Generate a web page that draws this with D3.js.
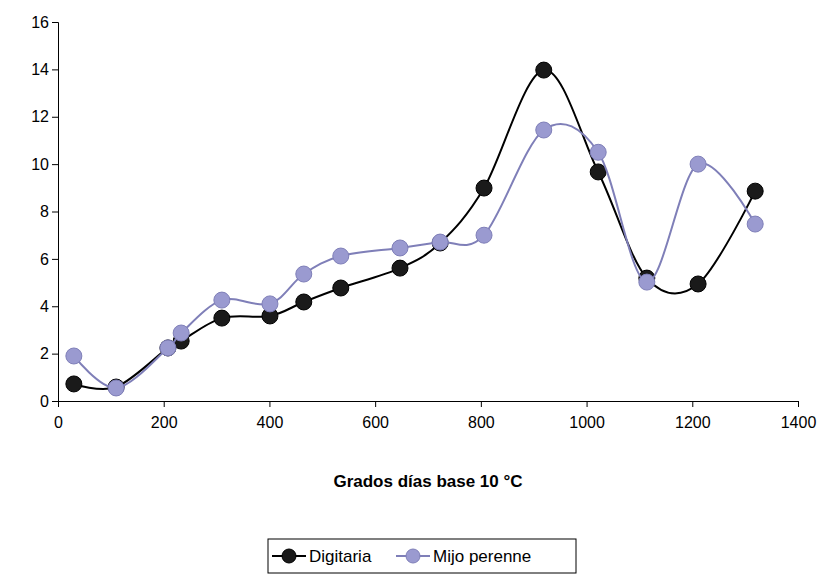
<!DOCTYPE html>
<html><head><meta charset="utf-8">
<script src="https://cdn.jsdelivr.net/npm/d3@7"></script>
<style>body{margin:0;background:#fff}text{font-family:"Liberation Sans",Arial,sans-serif}</style>
</head><body><div id="chart"></div>
<script>
var gdd = [30, 110, 208, 233, 310, 401, 465, 535, 647, 723, 806, 919, 1022, 1114, 1211, 1319];
var digitaria = [0.72, 0.59, 2.24, 2.53, 3.5, 3.59, 4.18, 4.77, 5.61, 6.67, 8.99, 13.97, 9.67, 5.19, 4.94, 8.86];
var mijo = [1.9, 0.55, 2.24, 2.87, 4.26, 4.1, 5.36, 6.12, 6.46, 6.71, 7.0, 11.44, 10.5, 5.02, 10.0, 7.47];
var xTicks = [0, 200, 400, 600, 800, 1000, 1200, 1400];
var yTicks = [0, 2, 4, 6, 8, 10, 12, 14, 16];

var svg = d3.select("#chart").append("svg").attr("width", 818).attr("height", 575);
var x = d3.scaleLinear().domain([0, 1400]).range([58, 798]);
var y = d3.scaleLinear().domain([0, 16]).range([401, 22]);

var xAxis = svg.append("g").attr("transform", "translate(0,401)")
  .call(d3.axisBottom(x).tickValues(xTicks).tickSize(6).tickFormat(d3.format("d")));
var yAxis = svg.append("g").attr("transform", "translate(58,0)")
  .call(d3.axisLeft(y).tickValues(yTicks).tickSize(6));
[xAxis, yAxis].forEach(function(a) {
  a.selectAll("path,line").attr("stroke", "#000");
  a.selectAll("text").attr("font-size", 16).attr("fill", "#000");
});
xAxis.selectAll("text").attr("dy", "1.1em");

svg.append("text").attr("x", 428).attr("y", 487).attr("text-anchor", "middle")
  .attr("font-size", 17).attr("font-weight", "bold").text("Grados días base 10 °C");

var series = [
  { name: "Digitaria", vals: digitaria, line: "#000", fill: "#1a1a1a" },
  { name: "Mijo perenne", vals: mijo, line: "#7f7fb8", fill: "#9a9ad0" }
];
var line = d3.line().x(function(d) { return x(d[0]); }).y(function(d) { return y(d[1]); })
  .curve(d3.curveCardinal.tension(0));

series.forEach(function(s) {
  var pts = gdd.map(function(g, i) { return [g, s.vals[i]]; });
  svg.append("path").datum(pts).attr("d", line).attr("fill", "none")
    .attr("stroke", s.line).attr("stroke-width", 2);
  svg.selectAll(null).data(pts).enter().append("circle")
    .attr("cx", function(d) { return x(d[0]); }).attr("cy", function(d) { return y(d[1]); })
    .attr("r", 8).attr("fill", s.fill).attr("stroke", s.line).attr("stroke-width", 1);
});

// legend
var lg = svg.append("g");
lg.append("rect").attr("x", 268).attr("y", 539).attr("width", 308).attr("height", 34)
  .attr("fill", "#fff").attr("stroke", "#000");
var lx = [272, 396];
series.forEach(function(s, i) {
  lg.append("line").attr("x1", lx[i]).attr("x2", lx[i] + 34).attr("y1", 556).attr("y2", 556)
    .attr("stroke", s.line).attr("stroke-width", 2);
  lg.append("circle").attr("cx", lx[i] + 17).attr("cy", 556).attr("r", 7)
    .attr("fill", s.fill).attr("stroke", s.line);
  lg.append("text").attr("x", lx[i] + 37).attr("y", 562).attr("font-size", 17).text(s.name);
});
</script></body></html>
